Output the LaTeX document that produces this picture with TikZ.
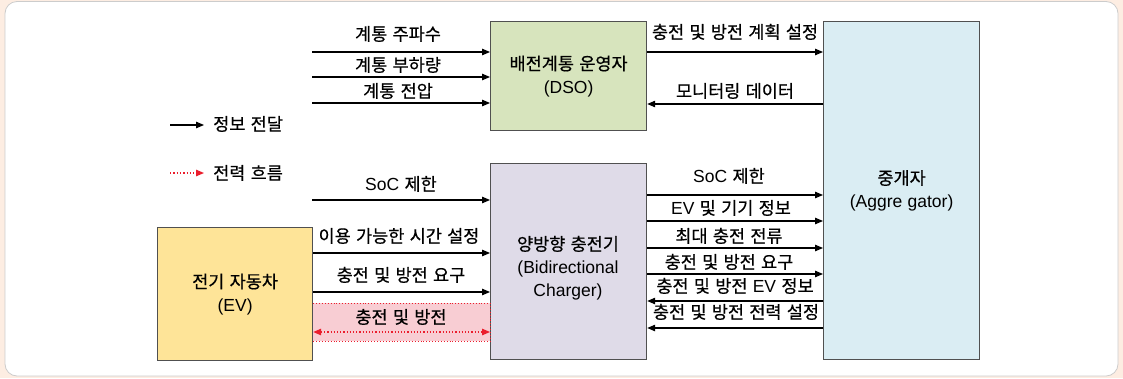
\documentclass[tikz,border=0pt]{standalone}
\usepackage{fontspec}
\setmainfont{Noto Sans CJK KR}[FakeBold=0.5]
\newfontfamily\lat{Liberation Sans}
\usetikzlibrary{arrows.meta}
\definecolor{peach}{RGB}{253,237,226}
\definecolor{dsog}{RGB}{215,228,189}
\definecolor{chgp}{RGB}{223,219,232}
\definecolor{aggb}{RGB}{218,237,243}
\definecolor{evy}{RGB}{254,228,152}
\definecolor{pinkf}{RGB}{248,205,211}
\definecolor{bord}{RGB}{80,80,80}
\definecolor{redl}{RGB}{235,30,45}
\newcommand{\kfs}{\fontsize{17.5}{23}\selectfont\spaceskip=5.3pt plus 1pt minus 1pt\relax}
\tikzset{
  box/.style={draw=bord, line width=1.2pt, anchor=north west, align=center, inner sep=0pt, font=\kfs},
  btxt/.style={align=center, inner sep=0pt, font=\kfs},
  arr/.style={line width=1.1pt, -{Triangle[length=8pt,width=6.5pt]}},
  pwr/.style={redl, line width=1.2pt, dotted, {Triangle[length=8pt,width=6.5pt]}-{Triangle[length=8pt,width=6.5pt]}},
  lbl/.style={inner sep=0pt, text height=13pt, text depth=2pt, font=\kfs},
}
\begin{document}
\begin{tikzpicture}[x=1pt,y=-1pt]
\useasboundingbox (0,0) rectangle (1123,378);
\fill[peach] (0,0) rectangle (1123,378);
\draw[black!20, fill=white, rounded corners=12pt, line width=0.8pt] (5,1.5) rectangle (1118,376);

% boxes
\node[box, fill=dsog, minimum width=156pt, minimum height=109pt] (dso) at (490,21) {배전계통 운영자\\{\lat(DSO)}};
\node[box, fill=aggb, minimum width=156pt, minimum height=338pt] (agg) at (823,21) {중개자\\{\lat(Aggre gator)}};
\node[box, fill=chgp, minimum width=156pt, minimum height=196pt] (chg) at (490,163) {};
\node[btxt] (chgt) at (568,268) {양방향 충전기\\{\lat(Bidirectional}\\{\lat Charger)}};
\node[box, fill=evy, minimum width=155pt, minimum height=133pt] (ev) at (157,227) {전기 자동차\\{\lat(EV)}};

% inputs to DSO
\coordinate (i1) at (312,52);
\coordinate (i2) at (312,77);
\coordinate (i3) at (312,103);
\draw[arr] (i1) -- (dso.west |- i1);
\draw[arr] (i2) -- (dso.west |- i2);
\draw[arr] (i3) -- (dso.west |- i3);
\node[lbl] (l1) at (398,35) {계통 주파수};
\node[lbl] (l2) at (398,66) {계통 부하량};
\node[lbl] (l3) at (398,92) {계통 전압};

% DSO <-> aggregator
\draw[arr] (dso.east |- 0,52) -- (agg.west |- 0,52);
\draw[arr] (agg.west |- 0,104) -- (dso.east |- 0,104);
\node[lbl] (l4) at (735,33) {충전 및 방전 계획 설정};
\node[lbl] (l5) at (735,92) {모니터링 데이터};

% legend
\coordinate (lg1a) at (170,125);
\coordinate (lg1b) at (204,125);
\draw[arr] (lg1a) -- (lg1b);
\node[lbl, anchor=west] (lg1t) at (213,125) {정보 전달};
\coordinate (lg2a) at (170,173);
\coordinate (lg2b) at (204,173);
\draw[redl, line width=1.3pt, dotted, -{Triangle[length=8pt,width=6.5pt]}] (lg2a) -- (lg2b);
\node[lbl, anchor=west] (lg2t) at (213,174) {전력 흐름};

% inputs to charger
\coordinate (s1) at (312,200);
\draw[arr] (s1) -- (chg.west |- s1);
\node[lbl] (l6) at (401,185) {{\lat SoC} 제한};
\draw[arr] (ev.east |- 0,253) -- (chg.west |- 0,253);
\node[lbl] (l7) at (399,237) {이용 가능한 시간 설정};
\draw[arr] (ev.east |- 0,292) -- (chg.west |- 0,292);
\node[lbl] (l8) at (401,276) {충전 및 방전 요구};

% power flow
\fill[pinkf] (ev.east |- 0,303) rectangle (chg.west |- 0,341);
\draw[redl, line width=0.9pt, dotted] (ev.east |- 0,303) -- (chg.west |- 0,303);
\draw[redl, line width=0.9pt, dotted] (ev.east |- 0,341) -- (chg.west |- 0,341);
\draw[redl, line width=0.9pt, dotted] (chg.west |- 0,303) -- (chg.west |- 0,341);
\draw[pwr] (ev.east |- 0,332) -- (chg.west |- 0,332);
\node[lbl] (l9) at (401,318) {충전 및 방전};

% charger <-> aggregator
\draw[arr] (chg.east |- 0,195) -- (agg.west |- 0,195);
\draw[arr] (chg.east |- 0,221) -- (agg.west |- 0,221);
\draw[arr] (chg.east |- 0,248) -- (agg.west |- 0,248);
\draw[arr] (chg.east |- 0,274) -- (agg.west |- 0,274);
\draw[arr] (agg.west |- 0,301) -- (chg.east |- 0,301);
\draw[arr] (agg.west |- 0,328) -- (chg.east |- 0,328);
\node[lbl] (r1) at (729,177) {{\lat SoC} 제한};
\node[lbl] (r2) at (731,209) {{\lat EV} 및 기기 정보};
\node[lbl] (r3) at (729,237) {최대 충전 전류};
\node[lbl] (r4) at (729,263) {충전 및 방전 요구};
\node[lbl] (r5) at (735,287) {충전 및 방전 {\lat EV} 정보};
\node[lbl] (r6) at (736,313) {충전 및 방전 전력 설정};
\end{tikzpicture}
\end{document}
